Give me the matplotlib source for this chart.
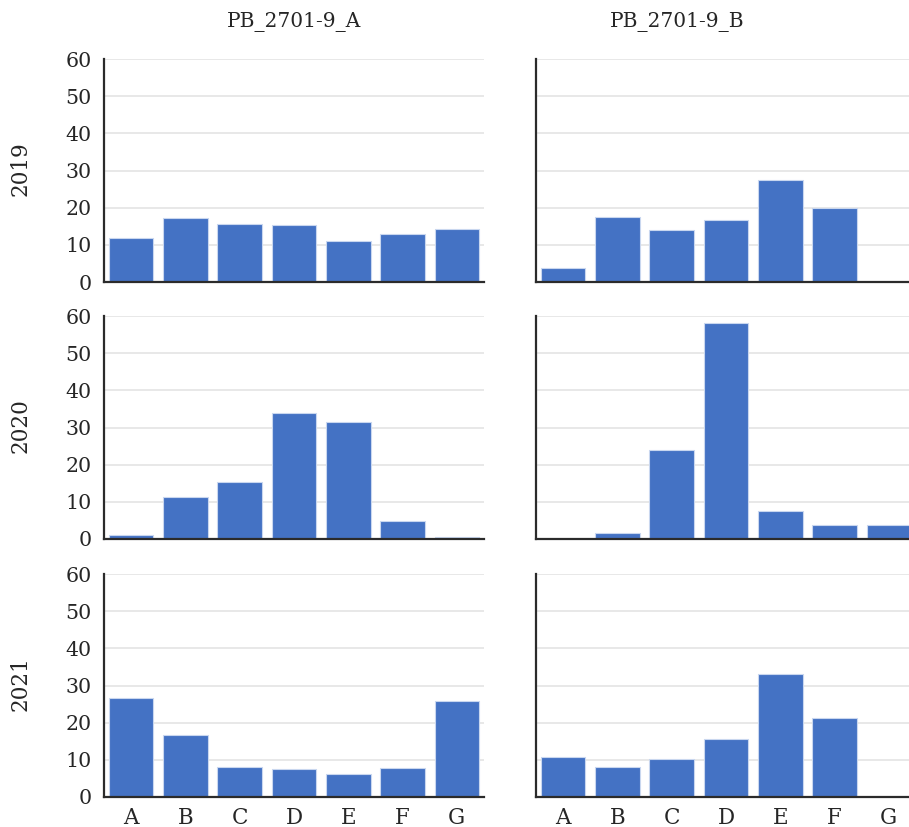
"""==============================================================
# Libraries
=============================================================="""
import matplotlib.pyplot as plt
import numpy as np

"""==============================================================
# Data
=============================================================="""
categories = ["A", "B", "C", "D", "E", "F", "G"]
years = ["2019", "2020", "2021"]
sites = ["PB_2701-9_A", "PB_2701-9_B"]

site_a_2019 = [11.8, 17.2, 15.5, 15.3, 11.0, 13.0, 14.2]
site_b_2019 = [3.9, 17.4, 14.0, 16.8, 27.5, 19.9, 0.0]
site_a_2020 = [1.1, 11.3, 15.3, 34.0, 31.5, 4.9, 0.6]
site_b_2020 = [0.0, 1.6, 24.0, 58.1, 7.6, 3.9, 3.9]
site_a_2021 = [26.7, 16.7, 8.2, 7.4, 6.2, 7.8, 25.7]
site_b_2021 = [10.7, 8.1, 10.2, 15.5, 33.2, 21.2, 0.0]

panel_values = [[site_a_2019, site_b_2019],
                [site_a_2020, site_b_2020],
                [site_a_2021, site_b_2021]]

"""==============================================================
# Figure setup
=============================================================="""
plt.rcParams["font.family"] = ["DejaVu Serif"]

W, H = 909, 827
fig = plt.figure(figsize=(W / 100, H / 100), dpi=100)

bar_color = "#4472C4"
spine_color = "#2b2b2b"
grid_color = "#e4e4e4"
text_color = "#262626"

# axes position in pixels (left, top) + size
col_left = [104, 536]
col_width = 380
row_top = [59, 316, 574]
row_height = 223

x = np.arange(len(categories))

for r in range(3):
    for c in range(2):
        left = col_left[c] / W
        bottom = (H - row_top[r] - row_height) / H
        ax = fig.add_axes([left, bottom, col_width / W, row_height / H])

        ax.bar(x, panel_values[r][c], width=0.82, color=bar_color,
               edgecolor="#c9d7ef", linewidth=0.8, zorder=3)

        ax.set_xlim(-0.5, 6.5)
        ax.set_ylim(0, 60)
        ax.set_yticks(np.arange(0, 61, 10))
        ax.yaxis.grid(True, color=grid_color, linewidth=1.2, zorder=0)
        ax.set_axisbelow(True)

        for side in ["top", "right"]:
            ax.spines[side].set_visible(False)
        for side in ["left", "bottom"]:
            ax.spines[side].set_color(spine_color)
            ax.spines[side].set_linewidth(1.6)
            ax.spines[side].set_zorder(4)

        ax.tick_params(axis="both", length=0, colors=text_color)
        ax.tick_params(axis="y", pad=9, labelsize=14.8)
        ax.tick_params(axis="x", pad=7, labelsize=15.5)

        ax.set_xticks(x)
        if r == 2:
            ax.set_xticklabels(categories)
        else:
            ax.set_xticklabels([])

        if c == 1:
            ax.set_yticklabels([])

"""==============================================================
# Titles
=============================================================="""
fig.text(294 / W, 1 - 22 / H, sites[0], ha="center", va="center",
         fontsize=14.5, color=text_color)
fig.text(677 / W, 1 - 22 / H, sites[1], ha="center", va="center",
         fontsize=14.5, color=text_color)

for r in range(3):
    y_center = row_top[r] + row_height / 2
    fig.text(21 / W, 1 - (y_center - 2) / H, years[r], ha="center",
             va="center", rotation=90, fontsize=15.5, color=text_color)

fig.savefig("out.png", dpi=100)
